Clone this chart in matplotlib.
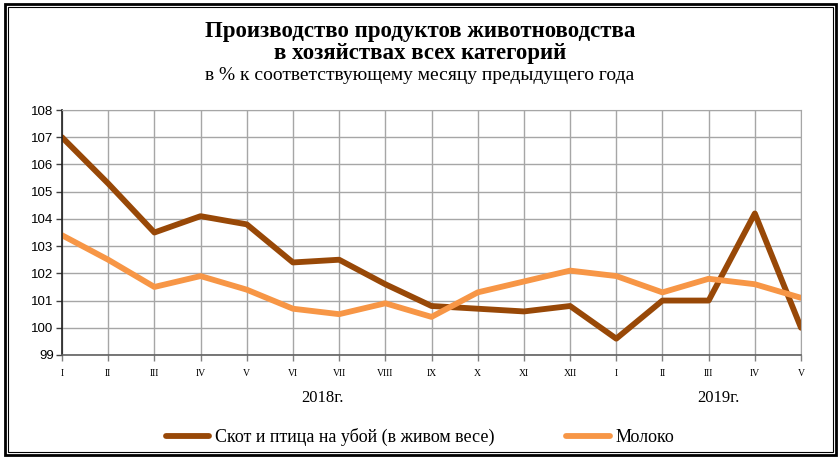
import matplotlib.pyplot as plt
from matplotlib.patches import Rectangle

months = ["I", "II", "III", "IV", "V", "VI", "VII", "VIII", "IX", "X", "XI", "XII",
          "I", "II", "III", "IV", "V"]
cattle = [107.0, 105.3, 103.5, 104.1, 103.8, 102.4, 102.5, 101.6, 100.8, 100.7,
          100.6, 100.8, 99.6, 101.0, 101.0, 104.2, 100.0]
milk = [103.4, 102.5, 101.5, 101.9, 101.4, 100.7, 100.5, 100.9, 100.4, 101.3,
        101.7, 102.1, 101.9, 101.3, 101.8, 101.6, 101.1]
years = ["2018г.", "2019г."]
yticks = list(range(99, 109))

serif = "Liberation Serif"
fig = plt.figure(figsize=(8.4, 4.59), dpi=100)
ax = fig.add_axes([0.0738, 0.2266, 0.8798, 0.5337])

x = list(range(len(months)))
l1, = ax.plot(x, cattle, color="#984807", lw=4.2, solid_capstyle="round",
              label="Скот и птица на убой (в живом весе)")
l2, = ax.plot(x, milk, color="#F79646", lw=4.2, solid_capstyle="round",
              label="Молоко")

ax.set_xlim(0, len(months) - 1)
ax.set_ylim(99, 108)
ax.set_yticks(yticks)
ax.set_xticks(x)
ax.set_xticklabels(months, fontfamily=serif, fontsize=7)
for t in ax.get_yticklabels():
    t.set_fontfamily("Liberation Sans")
    t.set_fontsize(9.5)
ax.grid(True, color="#a6a6a6", lw=1)
ax.set_axisbelow(True)
ax.tick_params(axis="y", length=4, width=1, color="#404040", pad=2)
ax.tick_params(axis="x", length=4, width=1, color="#808080", pad=6)
for s in ["top", "right"]:
    ax.spines[s].set_color("#a6a6a6")
ax.spines["left"].set_color("#202020")
ax.spines["bottom"].set_color("#606060")
ax.spines["left"].set_linewidth(1.2)
ax.spines["bottom"].set_linewidth(1.2)

fig.text(0.5, 0.932, "Производство продуктов животноводства",
         ha="center", va="center", fontfamily=serif, fontweight="bold", fontsize=16.5)
fig.text(0.5, 0.884, "в хозяйствах всех категорий",
         ha="center", va="center", fontfamily=serif, fontweight="bold", fontsize=16.5)
fig.text(0.5, 0.836, "в % к соответствующему месяцу предыдущего года",
         ha="center", va="center", fontfamily=serif, fontsize=14)

fig.text(322 / 840, 1 - 398 / 459, years[0], ha="center", va="center",
         fontfamily=serif, fontsize=12)
fig.text(718 / 840, 1 - 398 / 459, years[1], ha="center", va="center",
         fontfamily=serif, fontsize=12)

fig.legend(handles=[l1, l2], loc="center", bbox_to_anchor=(0.5, 1 - 437 / 459),
           ncol=2, frameon=False, prop={"family": serif, "size": 13},
           handlelength=2.4, columnspacing=4, handletextpad=0.3)

fig.patches.append(Rectangle((5 / 840, 4 / 459), 831 / 840, 451 / 459,
                             transform=fig.transFigure, fill=False,
                             ec="black", lw=2))
fig.patches.append(Rectangle((8 / 840, 7 / 459), 825 / 840, 445 / 459,
                             transform=fig.transFigure, fill=False,
                             ec="black", lw=0.8))

fig.savefig("out.png", dpi=100)
